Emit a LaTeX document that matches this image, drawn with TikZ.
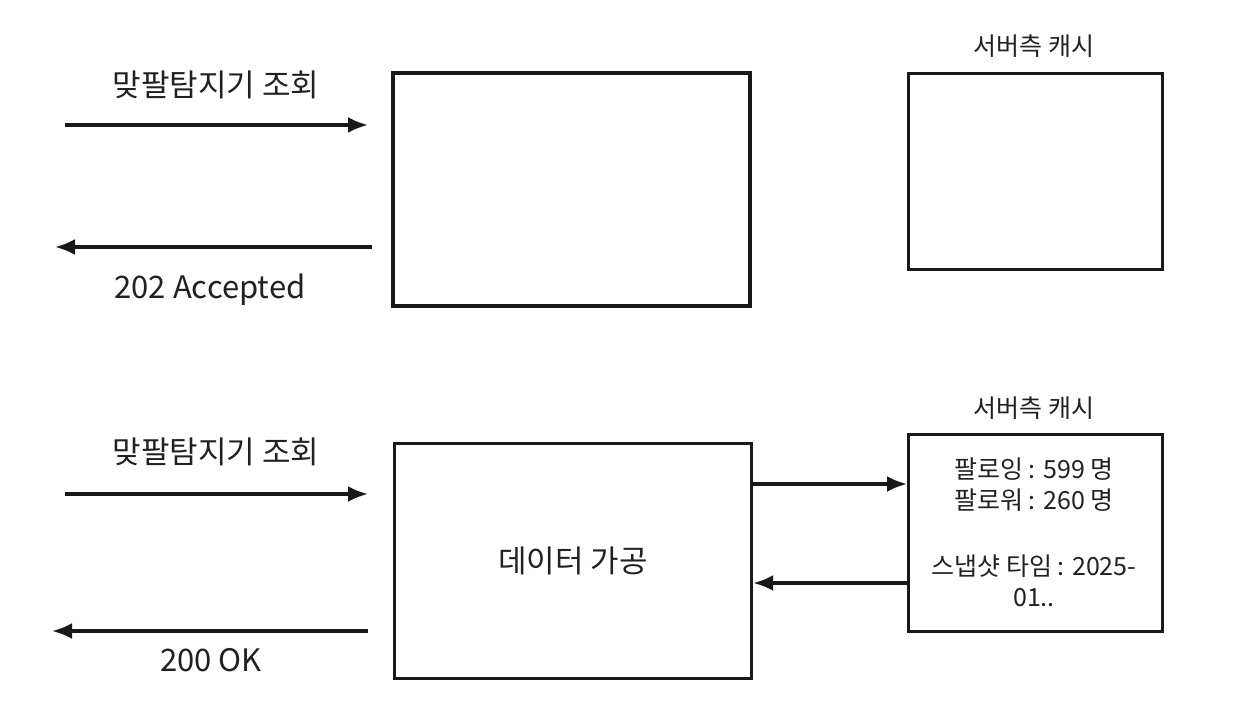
\documentclass[tikz,border=0pt]{standalone}
\usepackage{fontspec}
\setmainfont{Noto Sans CJK KR}
\usetikzlibrary{arrows.meta,positioning}

\begin{document}
\begin{tikzpicture}[x=1pt,y=-1pt,
  box/.style={draw=black!90,line width=3.2pt},
  flow/.style={draw=black!90,line width=3.2pt,-{Latex[length=20pt,width=16pt]}},
  biglabel/.style={text=black!87,font=\fontsize{31}{36}\selectfont},
  smalllabel/.style={text=black!87,font=\fontsize{25}{31}\selectfont,align=center},
]
  \useasboundingbox (0,0) rectangle (1233,719);
  % top: request accepted
  \draw[box] (393,73) rectangle (750,306);
  \node[box,minimum width=254pt,minimum height=196pt,anchor=north west] (cache1) at (907,72) {};
  \node[smalllabel] (cachetitle1) at (1034,46) {서버측 캐시};
  \coordinate (req1s) at (65,125);
  \coordinate (req1e) at (368,125);
  \draw[flow] (req1s) -- (req1e);
  \node[biglabel] (req1) at (216,85) {맞팔탐지기 조회};
  \coordinate (res1s) at (372,247);
  \coordinate (res1e) at (55,247);
  \draw[flow] (res1s) -- (res1e);
  \node[biglabel] (res1) at (210,290) {202 Accepted};
  % bottom: processed from cache
  \node[box,minimum width=357pt,minimum height=235pt,anchor=north west,biglabel] (proc) at (393,442) {데이터 가공};
  \node[box,minimum width=254pt,minimum height=197pt,anchor=north west] (cache2) at (907,433) {};
  \node[smalllabel] (cachetitle2) at (1034,408) {서버측 캐시};
  \node[smalllabel] (snap) at (1034,532) {팔로잉 : 599 명\\팔로워 : 260 명\\[35pt]스냅샷 타임 : 2025-\\01..};
  \coordinate (req2s) at (65,494);
  \coordinate (req2e) at (368,494);
  \draw[flow] (req2s) -- (req2e);
  \node[biglabel] (req2) at (216,452) {맞팔탐지기 조회};
  \coordinate (res2s) at (368,631);
  \coordinate (res2e) at (52,631);
  \draw[flow] (res2s) -- (res2e);
  \node[biglabel] (res2) at (211,660) {200 OK};
  \draw[flow] (proc.east |- 0,484) -- (cache2.west |- 0,484);
  \draw[flow] (cache2.west |- 0,583) -- (proc.east |- 0,583);
\end{tikzpicture}
\end{document}
